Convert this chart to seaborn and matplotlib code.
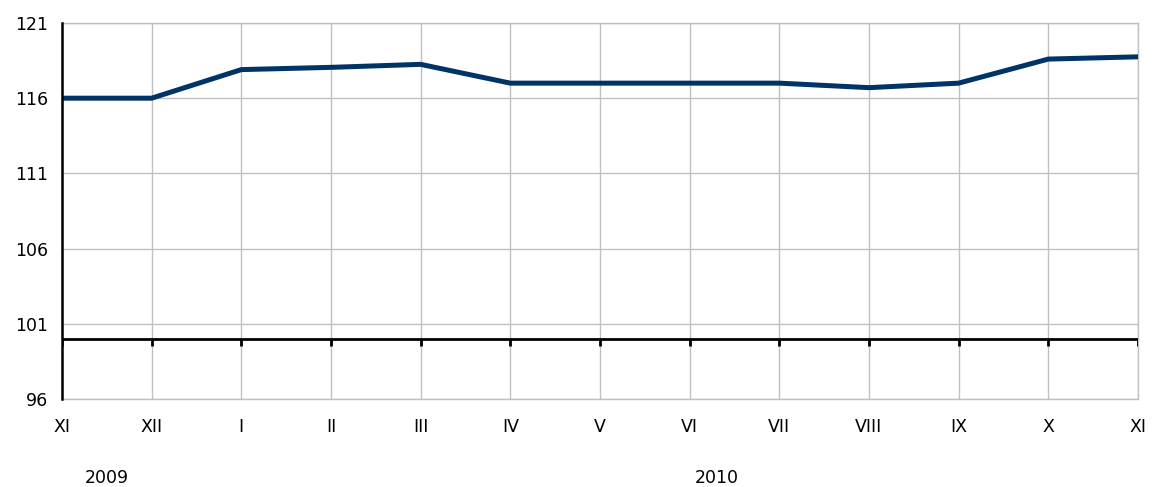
import matplotlib
matplotlib.use("Agg")
import matplotlib.pyplot as plt
import matplotlib.transforms as mtransforms
import pandas as pd
import seaborn as sns

# months from XI 2009 to XI 2010
months = ["XI", "XII", "I", "II", "III", "IV", "V", "VI", "VII", "VIII", "IX", "X", "XI"]
values = [116.0, 116.0, 117.9, 118.05, 118.25, 117.0, 117.0, 117.0, 117.0, 116.7, 117.0, 118.6, 118.75]
years = ["2009", "2010"]
year_pos = [0.5, 7.3]
y_ticks = [96, 101, 106, 111, 116, 121]
base_level = 100

df = pd.DataFrame({"pos": range(len(months)), "value": values})

sns.set_style("white")
plt.rcParams["font.family"] = ["DejaVu Sans"]
plt.rcParams["text.color"] = "black"
plt.rcParams["xtick.color"] = "black"
plt.rcParams["ytick.color"] = "black"

fig = plt.figure(figsize=(11.54, 4.87), dpi=100)
ax = fig.add_axes([0.0537, 0.1807, 0.9324, 0.7721])

sns.lineplot(data=df, x="pos", y="value", ax=ax, color="#003366", linewidth=3.6, zorder=4)

ax.set_xlim(0, len(months) - 1)
ax.set_ylim(y_ticks[0], y_ticks[-1])
ax.set_yticks(y_ticks)
ax.set_xticks(df["pos"])
ax.set_xticklabels(months)
ax.grid(True, color="#c0c0c0", linewidth=1)
ax.set_axisbelow(True)

for side in ["top", "right", "bottom"]:
    ax.spines[side].set_visible(True)
    ax.spines[side].set_color("#c0c0c0")
    ax.spines[side].set_linewidth(1)
ax.spines["left"].set_color("black")
ax.spines["left"].set_linewidth(1.8)
ax.spines["left"].set_zorder(5)

ax.tick_params(axis="y", length=7, width=1.8, labelsize=12.5, pad=3)
ax.tick_params(axis="x", length=0, labelsize=12.5, pad=14)
ax.set_xlabel("")
ax.set_ylabel("")

# base line at 100 with small ticks downward at each month
ax.axhline(base_level, color="black", linewidth=2, zorder=3)
ax.vlines(df["pos"], base_level - 0.45, base_level, color="black", linewidth=2, zorder=3)

trans = mtransforms.blended_transform_factory(ax.transData, ax.transAxes)
for yr, p in zip(years, year_pos):
    ax.text(p, -0.21, yr, transform=trans, ha="center", va="center", fontsize=12.5)

fig.savefig("out.png", dpi=100)
